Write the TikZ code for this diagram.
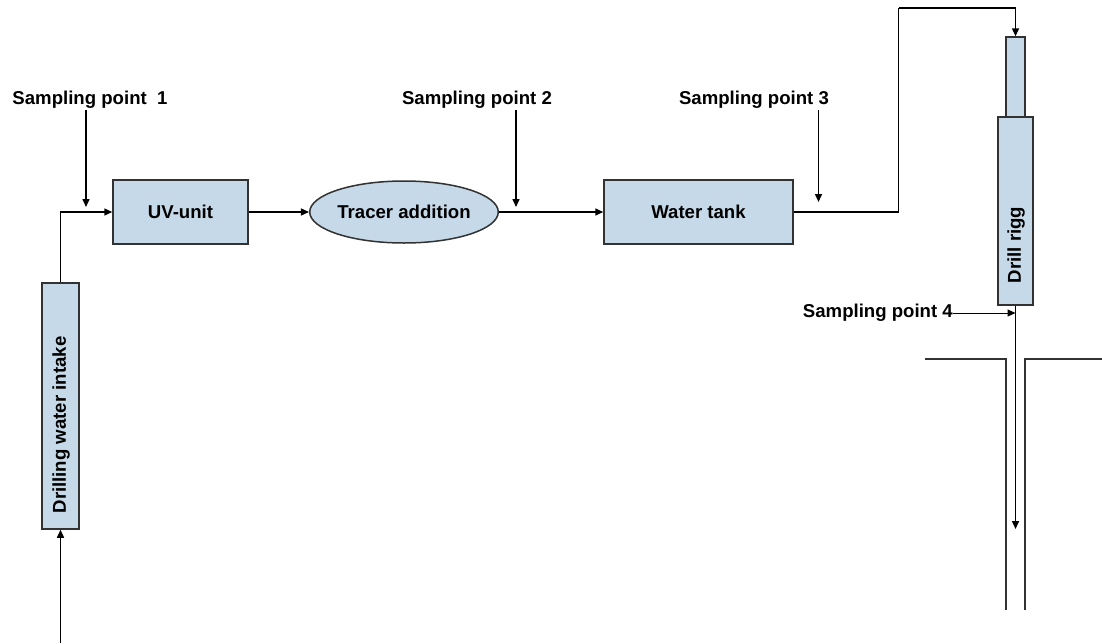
\documentclass[tikz,border=0pt]{standalone}
\usepackage{fontspec}
\setmainfont{Liberation Sans}
\usetikzlibrary{arrows.meta}
\usetikzlibrary{shapes.geometric}

\definecolor{unitblue}{RGB}{198,217,232}
\definecolor{edgegray}{RGB}{50,50,50}

\tikzset{
 unit/.style={draw=edgegray,line width=1.5pt,fill=unitblue,inner sep=0pt,
   font=\fontsize{18.6}{22}\selectfont\bfseries},
 flow/.style={line width=1.5pt,-{Triangle[length=8pt,width=7pt]}},
 label/.style={inner sep=0pt,font=\fontsize{18.6}{22}\selectfont\bfseries},
 wall/.style={line width=1.5pt,draw=edgegray}
}

\begin{document}
\begin{tikzpicture}[x=1pt,y=-1pt]
 \useasboundingbox (0,0) rectangle (1102,643);
 % units
 \node[unit,minimum width=37pt,minimum height=246pt] (intake) at (60.5,406) {};
 \node[label,rotate=90] (intaketext) at (61,425) {Drilling water intake};
 \node[unit,minimum width=135pt,minimum height=64pt] (uv) at (180.5,212) {UV-unit};
 \node[unit,ellipse,minimum width=188pt,minimum height=62pt] (tracer) at (404,212) {Tracer addition};
 \node[unit,minimum width=189pt,minimum height=64pt] (tank) at (698.5,212) {Water tank};
 \node[unit,minimum width=19pt,minimum height=80pt] (rigtop) at (1015.5,77) {};
 \node[unit,minimum width=35pt,minimum height=188pt] (rig) at (1015.5,211) {};
 \node[label,rotate=90] (rigtext) at (1016,245) {Drill rigg};
 % sampling points
 \node[label] (sp1) at (90,100) {Sampling point \ 1};
 \node[label] (sp2) at (477,100) {Sampling point 2};
 \node[label] (sp3) at (754,100) {Sampling point 3};
 \node[label,anchor=east] (sp4) at (953,313) {Sampling point 4};
 \coordinate (p1) at (86,110);
 \coordinate (p2) at (516,110);
 \coordinate (p3) at (818.5,110);
 \coordinate (src) at (60.5,643);
 \coordinate (bend) at (898.5,8);
 \coordinate (bit) at (1015.5,529);
 % flow lines
 \draw[flow] (src) -- (intake.south);
 \draw[flow] (intake.north) |- (uv.west);
 \draw[flow] (uv) -- (tracer);
 \draw[flow] (tracer) -- (tank);
 \draw[line width=1.5pt] (tank.east) -| (bend);
 \draw[flow] (bend) -| (rigtop.north);
 \draw[flow] (rig.south) -- (bit);
 \draw[flow] (p1) -- ++(0,97);
 \draw[flow] (p2) -- ++(0,97);
 \draw[flow] (p3) -- ++(0,92);
 \draw[flow,line width=1pt] (sp4.east) -- (rig.south |- sp4.east);
 % borehole
 \draw[wall] (925,359) -| (1006,610);
 \draw[wall] (1102,359) -| (1025,610);
\end{tikzpicture}
\end{document}
